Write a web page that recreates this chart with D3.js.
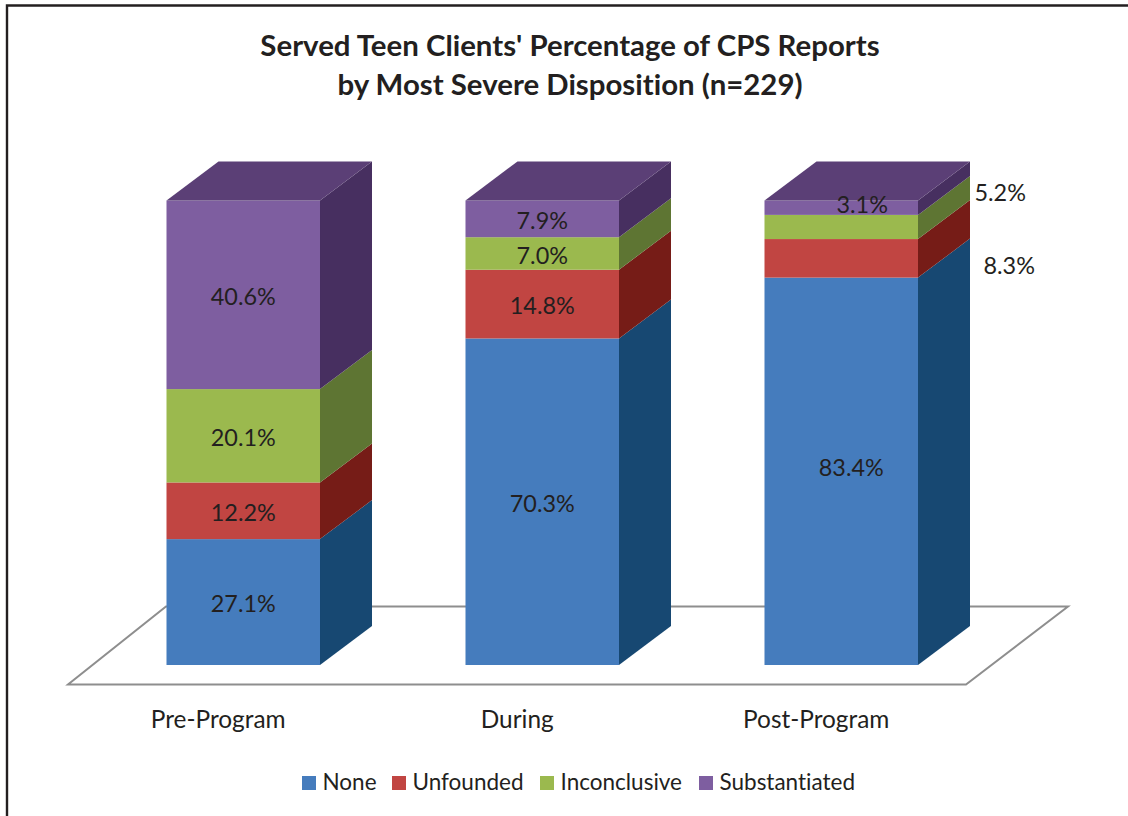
<!DOCTYPE html>
<html>
<head>
<meta charset="utf-8">
<script src="https://cdnjs.cloudflare.com/ajax/libs/d3/7.8.5/d3.min.js"></script>
<style>
html,body{margin:0;padding:0;background:#fff;}
svg{display:block;}
text{font-family:Lato,"Open Sans",sans-serif;fill:#231f20;font-variant-ligatures:none;}
</style>
</head>
<body>
<svg id="chart" width="1128" height="816"></svg>
<script>
const categories = ["Pre-Program", "During", "Post-Program"];
const seriesNames = ["None", "Unfounded", "Inconclusive", "Substantiated"];
const none = [27.1, 70.3, 83.4];
const unfounded = [12.2, 14.8, 8.3];
const inconclusive = [20.1, 7.0, 5.2];
const substantiated = [40.6, 7.9, 3.1];
const titleLines = ["Served Teen Clients' Percentage of CPS Reports", "by Most Severe Disposition (n=229)"];

const frontColors = ["#457cbd", "#c14542", "#9bb94e", "#7e5ea0"];
const sideColors = ["#174872", "#761c17", "#5e7533", "#472f60"];
const topColor = "#5b3f76";

const valuesBySeries = [none, unfounded, inconclusive, substantiated];
const rows = categories.map((c, i) => {
  const r = {category: c};
  seriesNames.forEach((s, j) => r[s] = valuesBySeries[j][i]);
  return r;
});

const svg = d3.select("#chart");
const depthX = 52, depthY = 39;
const x = d3.scaleBand().domain(categories).range([166.5, 918]).paddingInner(0.4866).paddingOuter(0);
const y = d3.scaleLinear().domain([0, 100]).range([665, 200.5]);
const color = d3.scaleOrdinal().domain(seriesNames).range(frontColors);
const side = d3.scaleOrdinal().domain(seriesNames).range(sideColors);
const stacked = d3.stack().keys(seriesNames)(rows);
const line = d3.line();

// frame
svg.append("path")
  .attr("d", line([[7, 816], [7, 5.5], [1128, 5.5]]))
  .attr("fill", "none").attr("stroke", "#231f20").attr("stroke-width", 2.4);

// title
svg.append("g").selectAll("text").data(titleLines).join("text")
  .attr("x", 570).attr("y", (d, i) => 55.5 + i * 39)
  .attr("text-anchor", "middle")
  .attr("font-size", 29.4).attr("font-weight", 700)
  .text(d => d);

// floor
const floorFront = 684.5, floorBack = 606.5;
svg.append("path")
  .attr("d", line([[68, floorFront], [966, floorFront], [1068, floorBack], [166, floorBack]]) + "Z")
  .attr("fill", "#fff").attr("stroke", "#8e8e8e").attr("stroke-width", 2);

// bars
const bars = svg.append("g");
categories.forEach((cat, ci) => {
  const x0 = x(cat), x1 = x0 + x.bandwidth();
  stacked.forEach(layer => {
    const [v0, v1] = layer[ci];
    const yb = y(v0), yt = y(v1);
    bars.append("path")
      .attr("d", line([[x1, yb], [x1 + depthX, yb - depthY], [x1 + depthX, yt - depthY], [x1, yt]]) + "Z")
      .attr("fill", side(layer.key));
    bars.append("rect")
      .attr("x", x0).attr("y", yt).attr("width", x.bandwidth()).attr("height", yb - yt)
      .attr("fill", color(layer.key));
  });
  const yTop = y(d3.sum(valuesBySeries, s => s[ci]));
  bars.append("path")
    .attr("d", line([[x0, yTop], [x0 + depthX, yTop - depthY], [x1 + depthX, yTop - depthY], [x1, yTop]]) + "Z")
    .attr("fill", topColor);
});

// data labels (moved labels keyed by category and series)
const labelOffsets = {
  "Post-Program|None": [10, -5],
  "Post-Program|Unfounded": [168, 5],
  "Post-Program|Inconclusive": [159, -36],
  "Post-Program|Substantiated": [21, -5]
};
const labels = svg.append("g").attr("font-size", 23.4).attr("text-anchor", "middle");
categories.forEach((cat, ci) => {
  stacked.forEach(layer => {
    const [v0, v1] = layer[ci];
    const off = labelOffsets[cat + "|" + layer.key] || [0, 0];
    labels.append("text")
      .attr("x", x(cat) + x.bandwidth() / 2 + off[0])
      .attr("y", y((v0 + v1) / 2) + off[1] + 2)
      .attr("dy", "0.35em")
      .text((v1 - v0).toFixed(1) + "%");
  });
});

// category axis
const axisG = svg.append("g")
  .attr("transform", `translate(${-depthX / 2 + 1},711)`)
  .call(d3.axisBottom(x).tickSize(0).tickPadding(0));
axisG.select(".domain").remove();
axisG.selectAll("text").attr("font-size", 24.4).style("font-family", "Lato").attr("dy", "0.71em");

// legend
const legendSwatchX = [302, 392, 540, 699];
const legendSwatch = 14;
const legend = svg.append("g");
seriesNames.forEach((s, i) => {
  legend.append("rect")
    .attr("x", legendSwatchX[i]).attr("y", 776)
    .attr("width", legendSwatch).attr("height", legendSwatch)
    .attr("fill", color(s));
  legend.append("text")
    .attr("x", legendSwatchX[i] + 20.5).attr("y", 790)
    .attr("font-size", 22.5)
    .text(s);
});
</script>
</body>
</html>
